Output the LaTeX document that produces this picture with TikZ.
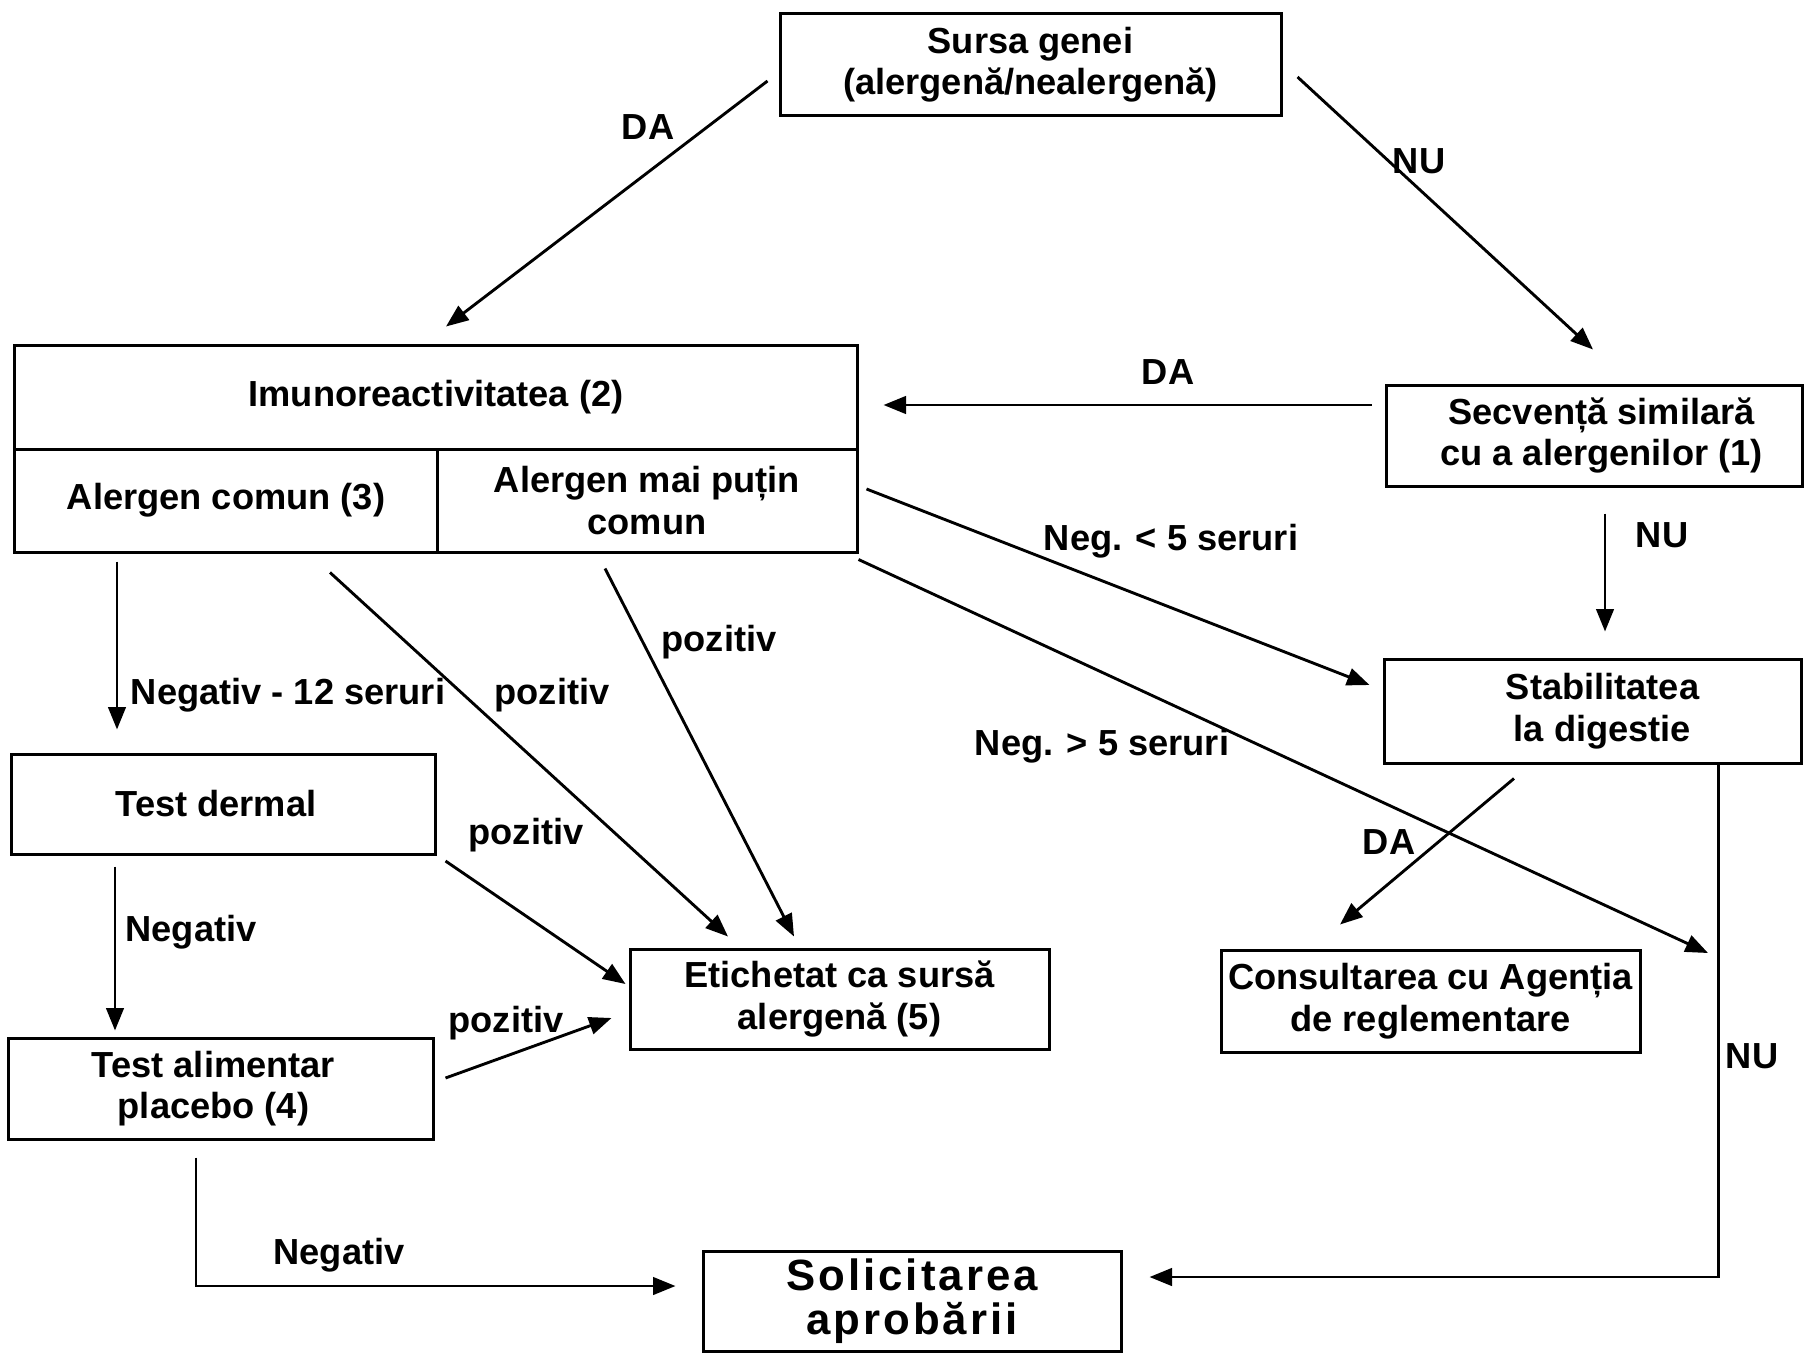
\documentclass[tikz,border=0pt]{standalone}
\usepackage{fontspec}
\setmainfont{Liberation Sans}
\usetikzlibrary{arrows.meta,calc}
\newcommand\dtxt{\fontsize{14.5}{16.6}\selectfont\bfseries}
\newcommand\dbig{\fontsize{17.5}{17.5}\selectfont\bfseries\addfontfeature{LetterSpace=7}}
\begin{document}
\begin{tikzpicture}[x=0.4pt,y=-0.4pt,
  box/.style={draw,line width=1.2pt,inner sep=1pt,align=center,font=\dtxt},
  arr/.style={line width=1.15pt,-{Triangle[length=9pt,width=7pt]}},
  lbl/.style={font=\dtxt,inner sep=0pt}]
\useasboundingbox[fill=white] (0,0) rectangle (1804,1352);
% boxes
\node[box,minimum width=200.4pt,minimum height=40.4pt] (sursa) at (1030.5,64.5) {Sursa genei\\(alergenă/nealergenă)};
\node[box,minimum width=336.8pt,minimum height=41.6pt] (imuno) at (436,397) {Imunoreactivitatea (2)};
\node[box,minimum width=168.8pt,minimum height=41.2pt] (comun) at (226,500.5) {Alergen comun (3)};
\node[box,minimum width=168pt,minimum height=41.2pt] (putin) at (647,500.5) {Alergen mai puțin\\comun};
\node[box,minimum width=166.4pt,minimum height=40.4pt] (secv) at (1594,435.5) {\hspace*{6pt}Secvență similară\\\hspace*{6pt}cu a alergenilor (1)};
\node[box,minimum width=166.8pt,minimum height=41.6pt] (stab) at (1592.5,711) {\hspace*{8pt}Stabilitatea\\\hspace*{8pt}la digestie};
\node[box,minimum width=169.2pt,minimum height=40pt] (dermal) at (223.5,804) {Test dermal\hspace*{6pt}};
\node[box,minimum width=169.6pt,minimum height=40.4pt] (alim) at (221,1088.5) {Test alimentar\hspace*{6pt}\\placebo (4)\hspace*{6pt}};
\node[box,minimum width=167.6pt,minimum height=40pt] (etich) at (839.5,999) {Etichetat ca sursă\\alergenă (5)};
\node[box,minimum width=167.6pt,minimum height=40.8pt] (cons) at (1430.5,1001) {Consultarea cu Agenția\\de reglementare};
\node[box,minimum width=167.2pt,minimum height=40pt,font=\dbig] (solic) at (912,1301) {Solicitarea\\aprobării};
\coordinate (negend) at (1708,953);
% connectors
\draw[arr] ([shift={(-11,16.5)}]sursa.west) -- ([shift={(10,-17)}]imuno.north);
\draw[arr] ([shift={(15,12.5)}]sursa.east) -- ([shift={(-1,-34)}]secv.north);
\draw[arr] ([shift={(-13,-30.5)}]secv.west) -- ([shift={(25,8)}]imuno.east);
\draw[arr] ([shift={(11,26)}]secv.south) -- ([shift={(12.5,-26)}]stab.north);
\draw[arr] ([shift={(8,-11.5)}]putin.east) -- ([shift={(-13,-26)}]stab.west);
\draw[arr] ([shift={(0,6)}]putin.south east) -- (negend);
\draw[arr] ([shift={(-78.5,14)}]stab.south) -- ([shift={(-90.5,-24)}]cons.north);
\draw[arr] ([shift={(-84,0)}]stab.south east) |- ([shift={(27,-24)}]solic.east);
\draw[arr] ([shift={(-109,8)}]comun.south) -- ([shift={(-106.5,-23)}]dermal.north);
\draw[arr] ([shift={(104,19)}]comun.south) -- ([shift={(-111.5,-11)}]etich.north);
\draw[arr] ([shift={(-42,15)}]putin.south) -- ([shift={(-45.5,-11)}]etich.north);
\draw[arr] ([shift={(9,57)}]dermal.east) -- ([shift={(-3,-15)}]etich.west);
\draw[arr] ([shift={(-108.5,11)}]dermal.south) -- ([shift={(-106,-6)}]alim.north);
\draw[arr] ([shift={(11,-10.5)}]alim.east) -- ([shift={(-17,19)}]etich.west);
\draw[arr] ([shift={(-25,17)}]alim.south) |- ([shift={(-26,-15)}]solic.west);
% labels
\node[lbl] (l1) at (648,127) {DA};
\node[lbl] (l2) at (1419,161) {NU};
\node[lbl] (l3) at (1168,372) {DA};
\node[lbl] (l4) at (1662,535) {NU};
\node[lbl] (l5) at (1171,541) {Neg. < 5 seruri};
\node[lbl] (l6) at (1102,746) {Neg. > 5 seruri};
\node[lbl] (l7) at (1389,842) {DA};
\node[lbl] (l8) at (1752,1056) {NU};
\node[lbl] (l9) at (288,695) {Negativ - 12 seruri};
\node[lbl] (l10) at (552,695) {pozitiv};
\node[lbl] (l11) at (719,642) {pozitiv};
\node[lbl] (l12) at (526,835) {pozitiv};
\node[lbl] (l13) at (191,932) {Negativ};
\node[lbl] (l14) at (506,1023) {pozitiv};
\node[lbl] (l15) at (339,1255) {Negativ};
\end{tikzpicture}
\end{document}
